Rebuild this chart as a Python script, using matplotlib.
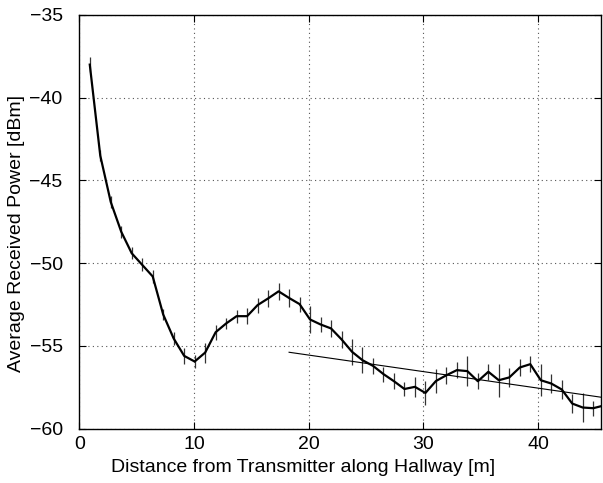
import numpy as np
import matplotlib
matplotlib.use("Agg")
import matplotlib.pyplot as plt

plt.rcParams['font.family'] = ['Liberation Sans', 'DejaVu Sans']

# distance samples every 3 ft (0.9144 m)
step_m = 0.9144
n_points = 50
distance = [step_m * k for k in range(1, n_points + 1)]

power = [-38.0, -43.5, -46.3, -48.1, -49.4, -50.1, -50.8, -53.1, -54.55, -55.6,
         -55.94, -55.4, -54.17, -53.64, -53.2, -53.2, -52.53, -52.13, -51.7, -52.1,
         -52.47, -53.4, -53.7, -53.94, -54.6, -55.35, -55.86, -56.2, -56.7, -57.13,
         -57.6, -57.47, -57.84, -57.12, -56.77, -56.46, -56.52, -57.13, -56.56, -57.07,
         -56.9, -56.3, -56.1, -57.07, -57.27, -57.63, -58.48, -58.72, -58.76, -58.6]

err = [0.45, 0.35, 0.35, 0.35, 0.35, 0.4, 0.4, 0.35, 0.4, 0.5,
       0.4, 0.6, 0.45, 0.35, 0.4, 0.5, 0.45, 0.5, 0.5, 0.52,
       0.45, 0.8, 0.45, 0.5, 0.5, 0.8, 0.8, 0.5, 0.45, 0.5,
       0.45, 0.6, 0.7, 0.7, 0.5, 0.5, 0.9, 0.5, 0.5, 1.0,
       0.55, 0.5, 0.5, 0.95, 0.6, 0.6, 0.6, 0.85, 0.45, 0.5]

fit_x = [18.29, 45.72]
fit_y = [-55.38, -58.12]

xticks = [0, 10, 20, 30, 40]
yticks = [-60, -55, -50, -45, -40, -35]

fig = plt.figure(figsize=(6.03, 4.83), dpi=100)
ax = fig.add_axes([0.1315, 0.1124, 0.8655, 0.8566])

ax.errorbar(distance, power, yerr=err, fmt='none', ecolor='#333333',
            elinewidth=0.9, capsize=0, zorder=2)
ax.plot(distance, power, color='black', linewidth=1.6, zorder=3)
ax.plot(fit_x, fit_y, color='black', linewidth=0.8, zorder=3)

ax.set_xlim(0, 45.5)
ax.set_ylim(-60, -35)
ax.set_xticks(xticks)
ax.set_yticks(yticks)
ax.set_yticklabels([f"\u2212{abs(v)}" for v in yticks])
ax.grid(True, linestyle=(0, (1, 3)), color='#555555', linewidth=0.8)
ax.tick_params(direction='in', top=True, right=True, labelsize=14, length=5)
ax.tick_params(axis='y', pad=12)
ax.tick_params(axis='x', pad=5)
for s in ax.spines.values():
    s.set_linewidth(1.0)

ax.set_xlabel('Distance from Transmitter along Hallway [m]', fontsize=14)
ax.set_ylabel('Average Received Power [dBm]', fontsize=14)
ax.xaxis.set_label_coords(0.429, -0.074)
ax.yaxis.set_label_coords(-0.104, 0.471)

fig.savefig('out.png', dpi=100)
